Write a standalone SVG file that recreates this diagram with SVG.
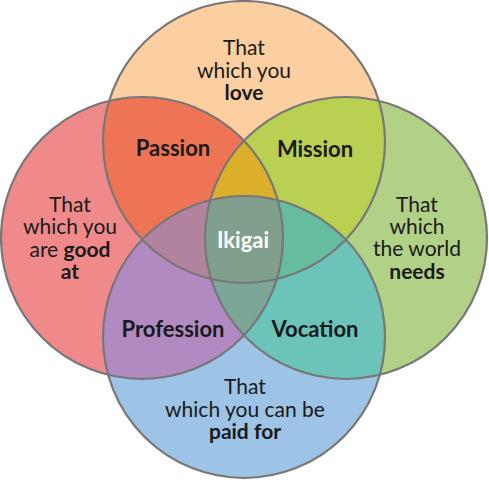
<svg xmlns="http://www.w3.org/2000/svg" width="489" height="480" viewBox="0 0 489 480">
<defs>
<clipPath id="cT"><circle cx="244" cy="142" r="141"/></clipPath>
<clipPath id="cL"><circle cx="142" cy="238" r="141"/></clipPath>
<clipPath id="cR"><circle cx="346" cy="238" r="141"/></clipPath>
<clipPath id="cB"><circle cx="244" cy="337" r="141"/></clipPath>
<style>
.t{font-family:Lato,"Open Sans","Liberation Sans",sans-serif;font-size:21px;fill:#1a1a1a;text-anchor:middle}
.b{font-weight:bold}
.lbl{font-size:22px}
.ring{fill:none;stroke:#777;stroke-width:2.2}
</style>
</defs>
<g id="fills">
<circle cx="244" cy="142" r="141" fill="#FBCFA0"/>
<circle cx="142" cy="238" r="141" fill="#F08A8A"/>
<circle cx="346" cy="238" r="141" fill="#B1D186"/>
<circle cx="244" cy="337" r="141" fill="#9DC3E6"/>
<g clip-path="url(#cL)"><circle cx="244" cy="142" r="141" fill="#EE7455"/></g>
<g clip-path="url(#cR)"><circle cx="244" cy="142" r="141" fill="#B9D052"/></g>
<g clip-path="url(#cL)"><circle cx="244" cy="337" r="141" fill="#B08AC1"/></g>
<g clip-path="url(#cR)"><circle cx="244" cy="337" r="141" fill="#6CC3BA"/></g>
<g clip-path="url(#cL)"><g clip-path="url(#cR)"><circle cx="244" cy="142" r="141" fill="#DCAF2A"/></g></g>
<g clip-path="url(#cL)"><g clip-path="url(#cB)"><circle cx="244" cy="142" r="141" fill="#B2839E"/></g></g>
<g clip-path="url(#cR)"><g clip-path="url(#cB)"><circle cx="244" cy="142" r="141" fill="#66BC9E"/></g></g>
<g clip-path="url(#cL)"><g clip-path="url(#cR)"><circle cx="244" cy="337" r="141" fill="#7BA698"/></g></g>
<g clip-path="url(#cL)"><g clip-path="url(#cR)"><g clip-path="url(#cB)"><circle cx="244" cy="142" r="141" fill="#809F8C"/></g></g></g>
</g>
<g id="connectors"></g>
<g id="love"><circle class="ring" cx="244" cy="142" r="141"/>
<text class="t"><tspan x="244" y="55">That</tspan><tspan x="244" y="78">which you</tspan><tspan class="b" x="244" y="100">love</tspan></text></g>
<g id="goodat"><circle class="ring" cx="142" cy="238" r="141"/>
<text class="t"><tspan x="70" y="212">That</tspan><tspan x="70" y="234">which you</tspan><tspan x="70" y="257">are <tspan class="b">good</tspan></tspan><tspan class="b" x="70" y="279">at</tspan></text></g>
<g id="needs"><circle class="ring" cx="346" cy="238" r="141"/>
<text class="t"><tspan x="417" y="212">That</tspan><tspan x="417" y="234">which</tspan><tspan x="417" y="256">the world</tspan><tspan class="b" x="417" y="279">needs</tspan></text></g>
<g id="paid"><circle class="ring" cx="244" cy="337" r="141"/>
<text class="t"><tspan x="245" y="394">That</tspan><tspan x="245" y="417">which you can be</tspan><tspan class="b" x="245" y="439">paid for</tspan></text></g>
<g id="passion"><text class="t b lbl" x="173" y="156">Passion</text></g>
<g id="mission"><text class="t b lbl" x="315" y="157">Mission</text></g>
<g id="profession"><text class="t b lbl" x="173" y="337">Profession</text></g>
<g id="vocation"><text class="t b lbl" x="315" y="337">Vocation</text></g>
<g id="ikigai"><text class="t b lbl" x="243" y="248" style="fill:#fff">Ikigai</text></g>
</svg>
